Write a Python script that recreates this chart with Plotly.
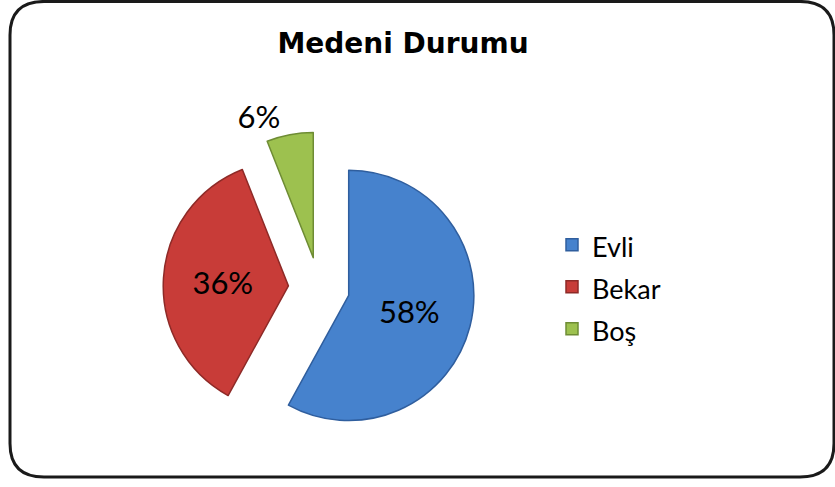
import plotly.graph_objects as go

# ---- data ----
labels = ["Evli", "Bekar", "Boş"]
values = [58, 36, 6]
colors = ["#4682CD", "#C83C38", "#9DC14F"]
line_colors = ["#2F5E9E", "#8E2A27", "#6E8C34"]
pulls = [0.245, 0.245, 0.245]
text_positions = ["inside", "inside", "outside"]
title_text = "Medeni Durumu"

W, H = 835, 487

# legend labels keep a smaller text inside a taller legend line
legend_labels = [f'<span style="font-size:27px">{l}</span>' for l in labels]

fig = go.Figure()
fig.add_trace(go.Pie(
    labels=legend_labels,
    values=values,
    sort=False,
    direction="clockwise",
    rotation=0,
    pull=pulls,
    marker=dict(colors=colors, line=dict(color=line_colors, width=1.5)),
    texttemplate="%{percent:.0%}",
    textposition=text_positions,
    insidetextorientation="horizontal",
    textfont=dict(family="Lato", size=31, color="black"),
    outsidetextfont=dict(family="Lato", size=31, color="black"),
    insidetextfont=dict(family="Lato", size=31, color="black"),
    domain=dict(x=[(319 - 158.1) / W, (319 + 158.1) / W],
                y=[(195 - 158.1) / H, (195 + 158.1) / H]),
    hoverinfo="skip",
))

# rounded border
x0, x1, y0, y1, r = 10 / W, 834 / W, 1 - 1.5 / H, 1 - 484 / H, 34
rx, ry = r / W, r / H
path = (f"M{x0+rx},{y0} L{x1-rx},{y0} Q{x1},{y0} {x1},{y0-ry} "
        f"L{x1},{y1+ry} Q{x1},{y1} {x1-rx},{y1} "
        f"L{x0+rx},{y1} Q{x0},{y1} {x0},{y1+ry} "
        f"L{x0},{y0-ry} Q{x0},{y0} {x0+rx},{y0} Z")

fig.update_layout(
    width=W, height=H,
    margin=dict(l=0, r=0, t=0, b=0, pad=0),
    paper_bgcolor="white",
    plot_bgcolor="white",
    title=dict(text=f"<b>{title_text}</b>", x=403 / W, xanchor="center",
               y=1 - 43 / H, yanchor="middle",
               font=dict(family="DejaVu Sans", size=28, color="black")),
    showlegend=True,
    legend=dict(x=552 / W, xanchor="left", y=(H - 291) / H, yanchor="middle",
                font=dict(family="Lato", size=30, color="black"),
                bgcolor="rgba(0,0,0,0)", borderwidth=0, traceorder="normal"),
    shapes=[dict(type="path", path=path, xref="paper", yref="paper",
                 line=dict(color="#1A1A1A", width=3), layer="above")],
)

fig.write_html("out.html")
